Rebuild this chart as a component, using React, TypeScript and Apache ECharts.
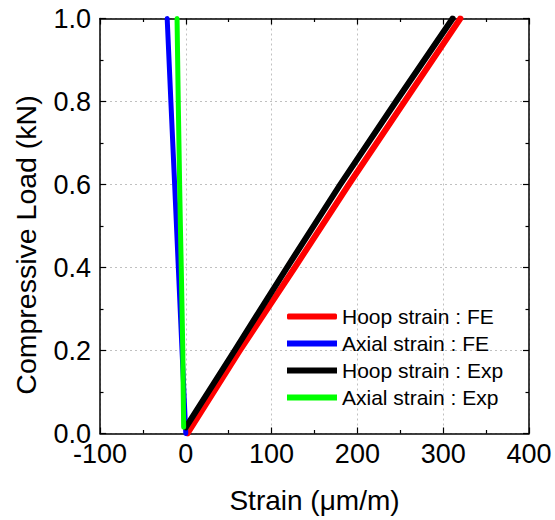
import React, { useEffect, useRef } from "react";
import * as echarts from "echarts";

const seriesNames = ["Hoop strain : FE", "Axial strain : FE", "Hoop strain : Exp", "Axial strain : Exp"];
const seriesColors = ["#ff0000", "#0000ff", "#000000", "#00ff00"];

const hoopFE: [number, number][] = [[2, 0], [63, 0.2], [127, 0.4], [190, 0.6], [255, 0.8], [320, 1.0]];
const axialFE: [number, number][] = [[0, 0], [-4.4, 0.2], [-8.7, 0.4], [-13, 0.6], [-17.4, 0.8], [-21.7, 1.0]];
const hoopExp: [number, number][] = [[0, 0.015], [57, 0.2], [118, 0.4], [180, 0.6], [245, 0.8], [311, 1.0]];
const axialExp: [number, number][] = [
  [-2.5, 0.015], [-3.0, 0.1], [-3.5, 0.2], [-4.4, 0.3], [-5.3, 0.4], [-6.3, 0.5],
  [-7.2, 0.6], [-8.0, 0.7], [-8.8, 0.8], [-9.5, 0.9], [-10.2, 1.0],
];

const xMin = -100, xMax = 400, xStep = 100;
const yMin = 0, yMax = 1, yStep = 0.2;
const xTitle = "Strain (μm/m)";
const yTitle = "Compressive Load (kN)";

const FONT = "'Liberation Sans', Arial, sans-serif";

export default function App() {
  const ref = useRef<HTMLDivElement>(null);
  useEffect(() => {
    if (!ref.current) return;
    const chart = echarts.init(ref.current, undefined, { renderer: "svg" });
    const frame = { show: true, lineStyle: { color: "#000", width: 1.5 } };
    const baseX = {
      type: "value" as const, min: xMin, max: xMax, interval: xStep,
      axisLine: { ...frame, onZero: false },
      axisTick: { show: true, inside: true, length: 6, lineStyle: { color: "#000", width: 1.2 } },
      minorTick: { show: true, splitNumber: 2, length: 3.5, lineStyle: { color: "#000", width: 1.2 } },
    };
    const baseY = {
      type: "value" as const, min: yMin, max: yMax, interval: yStep,
      axisLine: { ...frame, onZero: false },
      axisTick: { show: true, inside: true, length: 6, lineStyle: { color: "#000", width: 1.2 } },
      minorTick: { show: true, splitNumber: 2, length: 3.5, lineStyle: { color: "#000", width: 1.2 } },
    };
    const datas = [hoopFE, axialFE, hoopExp, axialExp];
    const widths = [6, 5, 6, 5];
    chart.setOption({
      animation: false,
      grid: { left: 100, top: 18.5, width: 429, height: 415 },
      legend: {
        orient: "vertical", left: 287, top: 306, padding: 0, itemGap: 6,
        itemWidth: 50, itemHeight: 6, icon: "rect",
        textStyle: { fontFamily: FONT, fontSize: 21, color: "#000", lineHeight: 21 },
        data: seriesNames.map((n, i) => (i === 0 ? { name: n, icon: "roundRect" } : { name: n })),
      },
      graphic: [
        {
          type: "text", x: 26, y: 245, rotation: Math.PI / 2, silent: true,
          style: { text: yTitle, fontFamily: FONT, fontSize: 28.5, fill: "#000", align: "center", verticalAlign: "middle" },
        },
      ],
      xAxis: [
        {
          ...baseX, position: "bottom",
          name: xTitle, nameLocation: "middle", nameGap: 67,
          nameTextStyle: { fontFamily: FONT, fontSize: 28, color: "#000", verticalAlign: "middle" },
          axisLabel: { fontFamily: FONT, fontSize: 27, color: "#000", margin: 7 },
          splitLine: { show: true, lineStyle: { color: "#c0c0c0", width: 1, type: [2, 3] } },
        },
        { ...baseX, position: "top", axisLabel: { show: false }, splitLine: { show: false } },
      ],
      yAxis: [
        {
          ...baseY, position: "left",
          axisLabel: { fontFamily: FONT, fontSize: 27, color: "#000", margin: 9, formatter: (v: number) => v.toFixed(1) },
          splitLine: { show: true, lineStyle: { color: "#c0c0c0", width: 1, type: [2, 3] } },
        },
        { ...baseY, position: "right", axisLabel: { show: false }, splitLine: { show: false } },
      ],
      series: datas.map((d, i) => ({
        name: seriesNames[i], type: "line", data: d, xAxisIndex: 0, yAxisIndex: 0,
        symbol: "none", showSymbol: false, clip: true,
        lineStyle: { color: seriesColors[i], width: widths[i], cap: "round", join: "round" },
        itemStyle: { color: seriesColors[i] },
      })),
    });
    return () => chart.dispose();
  }, []);
  return <div ref={ref} style={{ position: "fixed", left: 0, top: 0, width: 555, height: 520, background: "#fff" }} />;
}
